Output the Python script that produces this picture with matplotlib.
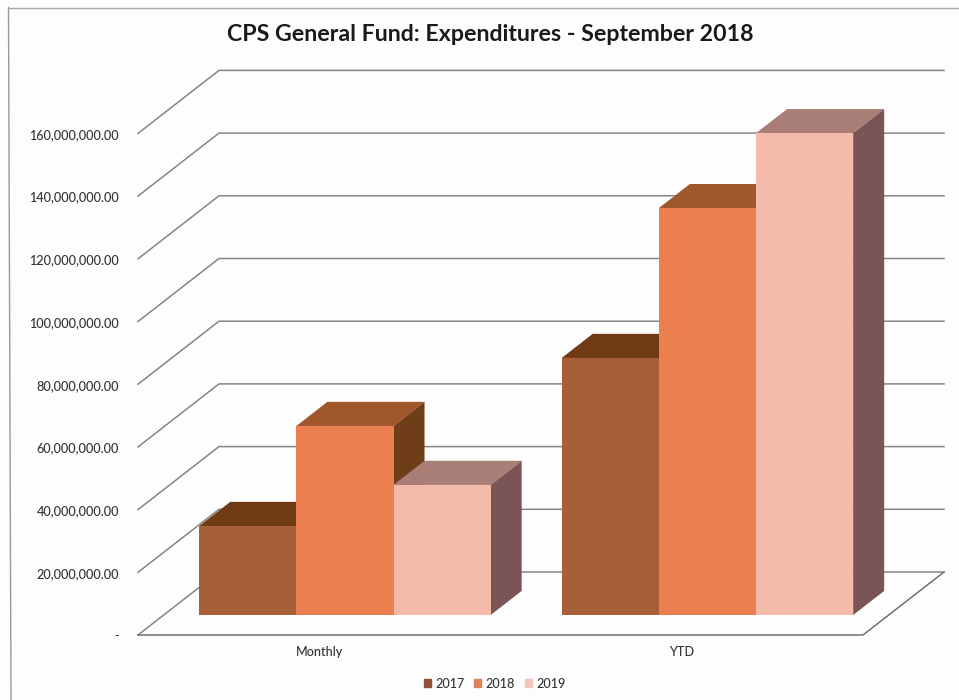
import matplotlib
matplotlib.use('Agg')
import matplotlib.pyplot as plt
from matplotlib.patches import Patch
from matplotlib.lines import Line2D

categories = ['Monthly', 'YTD']
years = ['2017', '2018', '2019']
# values in millions
values_2017 = [28.4, 82.0]
values_2018 = [60.3, 129.8]
values_2019 = [41.5, 153.7]
tick_values = [0, 20, 40, 60, 80, 100, 120, 140, 160]
tick_labels = ['-', '20,000,000.00', '40,000,000.00', '60,000,000.00', '80,000,000.00',
               '100,000,000.00', '120,000,000.00', '140,000,000.00', '160,000,000.00']

series = [values_2017, values_2018, values_2019]
front_colors = ['#A65F37', '#EB7F50', '#F5BBAA']
top_colors = ['#6F3A14', '#A0572B', '#A97E76']
side_colors = ['#5E3312', '#6F3E18', '#7B5556']

# one category = 362.5 px, 1 million = 3.135 px
PX_X = 362.5
PX_Y = 3.135
fig = plt.figure(figsize=(9.59, 7.0), dpi=100, facecolor='#fdfdfd')
ax = fig.add_axes([0, 0, 1, 1])
ax.set_xlim(-138 / PX_X, (959 - 138) / PX_X)
ax.set_ylim(-65 / PX_Y, (700 - 65) / PX_Y)
ax.axis('off')

DEPTH_X = 81 / PX_X
DEPTH_Y = 63 / PX_Y


def project(x, v, d):
    # d is the depth, 0 at the front of the floor and 1 at the back wall
    return x + DEPTH_X * d, v + DEPTH_Y * d


line_color = '#858585'

# walls and floor
for v in tick_values:
    x0, y0 = project(0, v, 0)
    x1, y1 = project(0, v, 1)
    x2, y2 = project(2, v, 1)
    ax.plot([x0, x1, x2], [y0, y1, y2], color=line_color, lw=1.1, solid_joinstyle='miter')
x0, y0 = project(0, 0, 0)
x1, y1 = project(2, 0, 0)
x2, y2 = project(2, 0, 1)
ax.plot([x0, x1, x2], [y0, y1, y2], color='#707070', lw=1.1)

# bars
BAR_W = 0.268
D_FRONT = 0.317
D_BACK = 0.70
for cat in range(len(categories)):
    for s in range(len(series)):
        v = series[s][cat]
        left = cat + 0.5 + (s - 1.5) * BAR_W
        right = left + BAR_W
        f = [project(left, 0, D_FRONT), project(right, 0, D_FRONT),
             project(right, v, D_FRONT), project(left, v, D_FRONT)]
        t = [project(left, v, D_FRONT), project(right, v, D_FRONT),
             project(right, v, D_BACK), project(left, v, D_BACK)]
        r = [project(right, 0, D_FRONT), project(right, 0, D_BACK),
             project(right, v, D_BACK), project(right, v, D_FRONT)]
        ax.fill(*zip(*t), color=top_colors[s], lw=0, zorder=3)
        ax.fill(*zip(*r), color=side_colors[s], lw=0, zorder=3)
        ax.fill(*zip(*f), color=front_colors[s], lw=0, zorder=3)

# tick labels, a touch below the gridline ends like the scan
for v, lab in zip(tick_values, tick_labels):
    ax.text(-19 / PX_X, v - 1.5 / PX_Y, lab, ha='right', va='center', fontsize=9.1,
            family='Lato', color='#333333', fontweight='medium')

for i, c in enumerate(categories):
    ax.text(i + 0.5, -17.5 / PX_Y, c, ha='center', va='center', fontsize=9.1,
            family='Lato', color='#333333', fontweight='medium')

fig.text(0.511, 0.951, 'CPS General Fund: Expenditures - September 2018', ha='center',
         va='center', fontsize=16.7, family='Lato', fontweight='bold', color='#1a1a1a')

handles = [Patch(color=c, label=y) for c, y in zip(['#8F4F38', '#E08058', '#F3C5BE'], years)]
fig.legend(handles=handles, loc='center', bbox_to_anchor=(0.516, 0.0235), ncol=3, frameon=False,
           handlelength=0.55, handleheight=0.55, handletextpad=0.35, columnspacing=0.75,
           prop={'family': 'Lato', 'size': 9.1, 'weight': 'medium'}, labelcolor='#333333')

# top and left edge of the scanned frame, there is no right or bottom edge
fig.add_artist(Line2D([8.5 / 959, 11 / 959], [692.5 / 700, 0], transform=fig.transFigure,
                      color='#9a9a9a', lw=1.0))
fig.add_artist(Line2D([8.5 / 959, 1], [692.5 / 700, 692.5 / 700], transform=fig.transFigure,
                      color='#a8a8a8', lw=1.0))

fig.savefig('out.png', dpi=100, facecolor=fig.get_facecolor())
